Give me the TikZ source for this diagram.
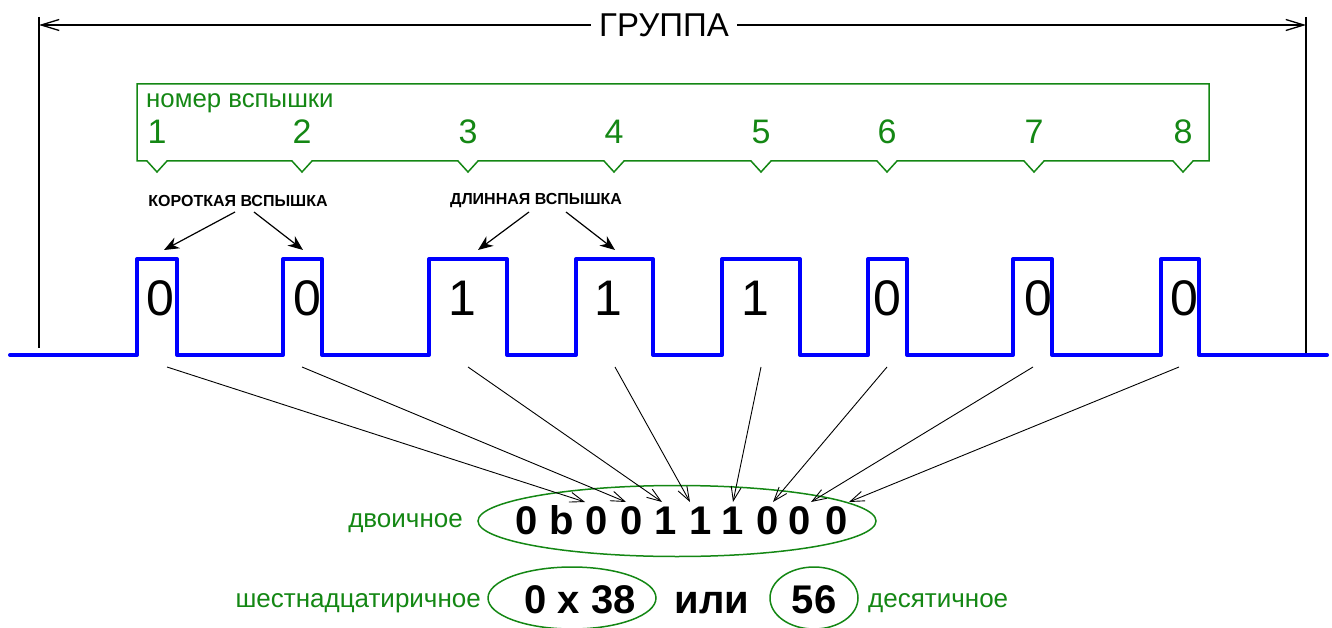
\documentclass[tikz,border=0pt]{standalone}
\usepackage{fontspec}
\setmainfont{Liberation Sans}
\usetikzlibrary{arrows.meta,shapes.geometric}
\definecolor{grn}{RGB}{20,135,20}
\definecolor{blu}{RGB}{0,0,255}
\newcommand\fsz[1]{\fontsize{#1}{#1}\selectfont}
\begin{document}
\begin{tikzpicture}[x=1pt,y=-1pt,
  dimline/.style={line width=1.3pt,black},
  dimarrow/.style={line width=1.3pt,{Straight Barb[length=18pt,width=11pt]}-{Straight Barb[length=18pt,width=11pt]}},
  gbox/.style={grn,line width=1.5pt,line join=miter},
  gtext/.style={text=grn,inner sep=0pt},
  gnum/.style={text=grn,inner sep=0pt,font=\fsz{34}},
  lbl/.style={inner sep=0pt,font=\fsz{16}\bfseries},
  bigarrow/.style={line width=1.2pt,-{Stealth[length=15pt,width=12pt]}},
  pulse/.style={blu,line width=4pt,line join=round,line cap=round},
  pdig/.style={inner sep=0pt,font=\fsz{50}},
  thinarrow/.style={line width=0.9pt,-{Straight Barb[length=14pt,width=10pt]}},
  bdig/.style={inner sep=0pt,anchor=base,font=\fsz{40}\bfseries},
  gell/.style={ellipse,draw=grn,line width=1.5pt,inner sep=0pt}
]
\useasboundingbox (0,0) rectangle (1332,628);

% group dimension
\coordinate (gl) at (39,25);
\coordinate (gr) at (1306,25);
\coordinate (glt) at (39,17);
\coordinate (glb) at (39,348);
\coordinate (grt) at (1306,17);
\coordinate (grb) at (1306,357);
\draw[dimline] (glt) -- (glb);
\draw[dimline] (grt) -- (grb);
\draw[dimarrow] (gl) -- (gr);
\node[fill=white,inner xsep=8pt,inner ysep=2pt,font=\fsz{33}] (grp) at (664,25) {ГРУППА};

% green bracket box
\draw[gbox] (137,84) -- (1209,84) -- (1209,161)
  \foreach \x in {1183,1034,887,761,614,468,302,157} { -- (\x+10,161) -- (\x,172) -- (\x-10,161) }
  -- (137,161) -- cycle;
\node[gtext,anchor=base west,font=\fsz{25.8}] (title) at (146,108) {номер вспышки};
\foreach \x [count=\i] in {157,302,468,614,761,887,1034,1183}
  \node[gnum] (n\i) at (\x,132) {\i};

% labels
\node[lbl] (short) at (238,201) {КОРОТКАЯ ВСПЫШКА};
\node[lbl] (long) at (536,201) {ДЛИННАЯ ВСПЫШКА};
\coordinate (sa) at (235,212);
\coordinate (sb) at (254,212);
\coordinate (la) at (529,212);
\coordinate (lb) at (566,212);
\coordinate (ta) at (164,250);
\coordinate (tb) at (303,250);
\coordinate (tc) at (478,250);
\coordinate (td) at (615,250);
\draw[bigarrow] (sa) -- (ta);
\draw[bigarrow] (sb) -- (tb);
\draw[bigarrow] (la) -- (tc);
\draw[bigarrow] (lb) -- (td);

% pulse train
\draw[pulse] (10,355)
  \foreach \a/\b in {137/177,283/322,429/507,576/653,722/800,868/907,1013/1052,1161/1199}
  { -- (\a,355) -- (\a,259) -- (\b,259) -- (\b,355) } -- (1327,355);
\foreach \x/\d [count=\i] in {160/0,307/0,462/1,608/1,755/1,887/0,1038/0,1184/0}
  \node[pdig] (p\i) at (\x,298) {\d};

% binary
\node[gell,minimum width=398pt,minimum height=71pt] (bell) at (677,521) {};
\node[bdig] (b0) at (527,534) {0};
\node[bdig] (bb) at (562,534) {b};
\foreach \x/\d [count=\i] in {597/0,632/0,666/1,701/1,733/1,768/0,800/0,837/0}
  \node[bdig] (d\i) at (\x,534) {\d};
\node[gtext,anchor=base east,font=\fsz{26}] (bin) at (463,527) {двоичное};

% arrows to binary digits
\foreach \x [count=\i] in {167,302,468,615,761,887,1033,1179}
  \coordinate (u\i) at (\x,367);
\foreach \x [count=\i] in {585,626,662,690,733,773,811,849}
  \coordinate (t\i) at (\x,502);
\foreach \i in {1,...,8}
  \draw[thinarrow] (u\i) -- (t\i);

% hex / dec
\node[gell,minimum width=168pt,minimum height=62pt] (hell) at (572,598) {};
\node[gell,minimum width=88pt,minimum height=62pt] (dell) at (814,598) {};
\node[bdig] (hex) at (580,613) {0 x 38};
\node[bdig] (ili) at (712,613) {или};
\node[bdig] (dec) at (814,613) {56};
\node[gtext,anchor=base east,font=\fsz{26}] (hexl) at (481,607) {шестнадцатиричное};
\node[gtext,anchor=base west,font=\fsz{26}] (decl) at (868,607) {десятичное};
\end{tikzpicture}
\end{document}
